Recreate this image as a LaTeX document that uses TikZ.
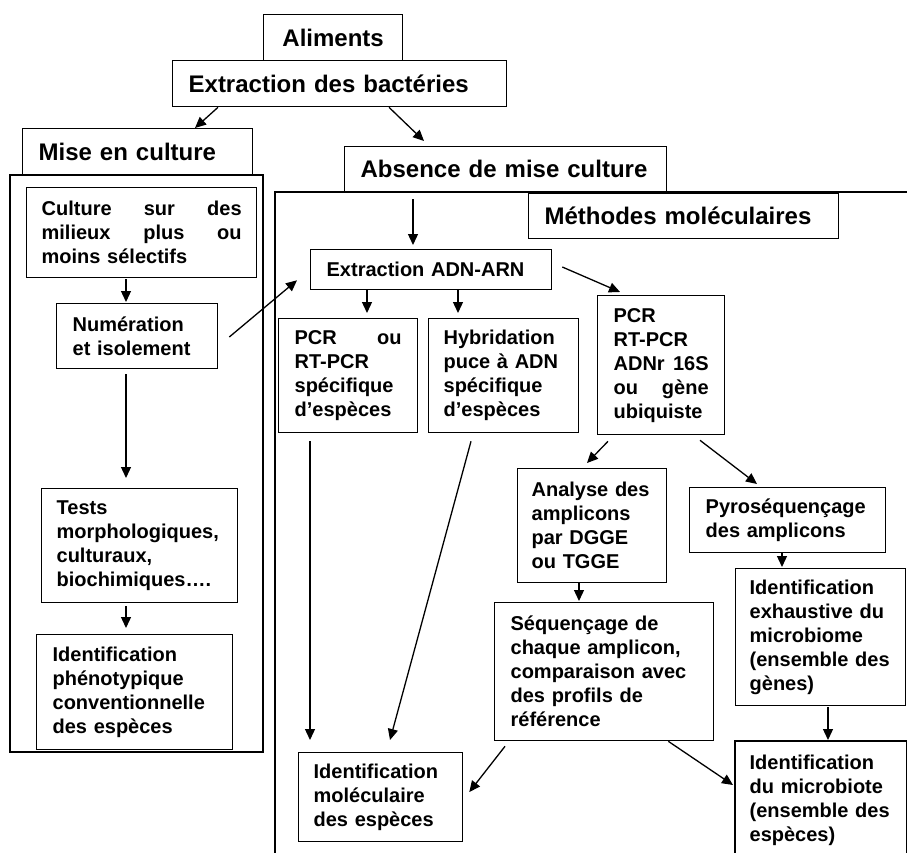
\documentclass[tikz,border=0pt]{standalone}
\usepackage{fontspec}
\setmainfont{Liberation Sans}
\usetikzlibrary{arrows.meta,calc}
\newcommand\jl[2]{\leavevmode\hbox to #1pt{#2}}
\begin{document}
\begin{tikzpicture}[x=1pt,y=-1pt,
  bx/.style={draw, line width=1.3pt, anchor=north west, inner xsep=0pt, inner ysep=2pt, align=left,
    font=\fontsize{20}{24}\selectfont\bfseries},
  bigbx/.style={bx, font=\fontsize{24}{29}\selectfont\bfseries},
  arr/.style={line width=1.3pt, -{Triangle[length=11pt,width=10pt]}},
  framestyle/.style={line width=1.7pt}]
\useasboundingbox (0,0) rectangle (907,853);
\clip (0,0) rectangle (907,853);
\fill[white] (0,0) rectangle (907,853);

% frames
\draw[framestyle] (10,175) rectangle (263,752);
\draw[line width=1.5pt] (275,870) -- (275,192) -- (915,192);

% top boxes
\node[bigbx, minimum width=139, minimum height=46, text width=107, align=center] (alim) at (263,14) {Aliments};
\node[bigbx, minimum width=334, minimum height=46, text width=302] (bact) at (172,60) {Extraction des bactéries};
\node[bigbx, minimum width=230, minimum height=46, text width=198] (mise) at (22,128) {Mise en culture};
\node[bigbx, minimum width=322, minimum height=45, text width=290] (abs) at (344,146) {Absence de mise culture};
\node[bigbx, minimum width=310, minimum height=45, text width=278] (meth) at (528,193) {Méthodes moléculaires};

% left column
\node[bx, minimum width=230, minimum height=90, text width=200] (culture) at (26,187)
  {\jl{200}{Culture\hfill sur\hfill des}\\\jl{200}{milieux\hfill plus\hfill ou}\\moins sélectifs};
\node[bx, minimum width=161, minimum height=65, text width=129] (num) at (56,303)
  {Numération\\et isolement};
\node[bx, minimum width=196, minimum height=114, text width=166] (tests) at (41,488)
  {Tests\\morphologiques,\\culturaux,\\biochimiques….};
\node[bx, minimum width=196, minimum height=115, text width=164] (pheno) at (36,634)
  {Identification\\phénotypique\\conventionnelle\\des espèces};

% right part
\node[bx, minimum width=241, minimum height=40, text width=209] (extr) at (310,249) {Extraction ADN-ARN};
\node[bx, minimum width=139, minimum height=114, text width=107] (pcr1) at (278,318)
  {\jl{107}{PCR\hfill ou}\\RT-PCR\\spécifique\\d’espèces};
\node[bx, minimum width=150, minimum height=114, text width=120] (hyb) at (428,318)
  {Hybridation\\puce à ADN\\spécifique\\d’espèces};
\node[bx, minimum width=127, minimum height=139, text width=95] (pcr2) at (597,295)
  {PCR\\RT-PCR\\\jl{95}{ADNr\hfill 16S}\\\jl{95}{ou\hfill gène}\\ubiquiste};
\node[bx, minimum width=149, minimum height=114, text width=121] (ana) at (517,468)
  {Analyse des\\amplicons\\par DGGE\\ou TGGE};
\node[bx, minimum width=196, minimum height=65, text width=164] (pyro) at (689,487)
  {Pyroséquençage\\des amplicons};
\node[bx, minimum width=170, minimum height=137, text width=142] (exh) at (735,568)
  {Identification\\exhaustive du\\microbiome\\(ensemble des\\gènes)};
\node[bx, minimum width=219, minimum height=138, text width=187] (seq) at (494,602)
  {Séquençage de\\chaque amplicon,\\comparaison avec\\des profils de\\référence};
\node[bx, minimum width=164, minimum height=89, text width=134] (idmol) at (298,752)
  {Identification\\moléculaire\\des espèces};
\node[bx, draw=none, minimum width=170, inner ysep=13pt, text width=142] (micro) at (735,741)
  {Identification\\du microbiote\\(ensemble des\\espèces)};
\draw[line width=1.3pt] ($(micro.north west)+(0,140)$) -- (micro.north west) -- (micro.north east) -- ($(micro.north east)+(0,140)$);

% connectors
\draw[arr] ($(bact.south west)+(46,0)$) -- ($(mise.north west)+(173,0)$);
\draw[arr] ($(bact.south west)+(217,0)$) -- ($(abs.north west)+(80,-5)$);
\draw[arr] ($(abs.south west)+(69,7)$) -- ($(extr.north west)+(103,-4)$);
\draw[arr] ($(culture.south west)+(100,1)$) -- ($(num.north west)+(70,-1)$);
\draw[arr] ($(num.south west)+(70,5)$) -- ($(tests.north west)+(85,-10)$);
\draw[arr] ($(tests.south west)+(85,3)$) -- ($(pheno.north west)+(90,-6)$);
\draw[arr] ($(num.north east)+(11,34)$) -- ($(extr.south west)+(-13,-10)$);
\draw[arr] ($(extr.south west)+(57,0)$) -- ($(pcr1.north west)+(89,-5)$);
\draw[arr] ($(extr.south west)+(148,0)$) -- ($(hyb.north west)+(30,-5)$);
\draw[arr] ($(extr.north east)+(10,18)$) -- ($(pcr2.north west)+(23,-3)$);
\draw[arr] ($(pcr1.south west)+(32,8)$) -- ($(idmol.north west)+(12,-12)$);
\draw[arr] ($(hyb.south west)+(43,8)$) -- ($(idmol.north west)+(92,-12)$);
\draw[arr] ($(pcr2.south west)+(11,6)$) -- ($(ana.north west)+(70,-5)$);
\draw[arr] ($(pcr2.south west)+(103,5)$) -- ($(pyro.north west)+(68,-3)$);
\draw[arr] ($(pyro.south west)+(93,0)$) -- ($(exh.north west)+(47,-1)$);
\draw[arr] ($(ana.south west)+(62,0)$) -- ($(seq.north west)+(85,-1)$);
\draw[arr] ($(seq.south west)+(11,5)$) -- ($(idmol.north east)+(6,40)$);
\draw[arr] ($(seq.south east)+(-46,0)$) -- ($(micro.north west)+(-2,44)$);
\draw[arr] ($(exh.south west)+(93,1)$) -- ($(micro.north west)+(93,-1)$);
\end{tikzpicture}
\end{document}
